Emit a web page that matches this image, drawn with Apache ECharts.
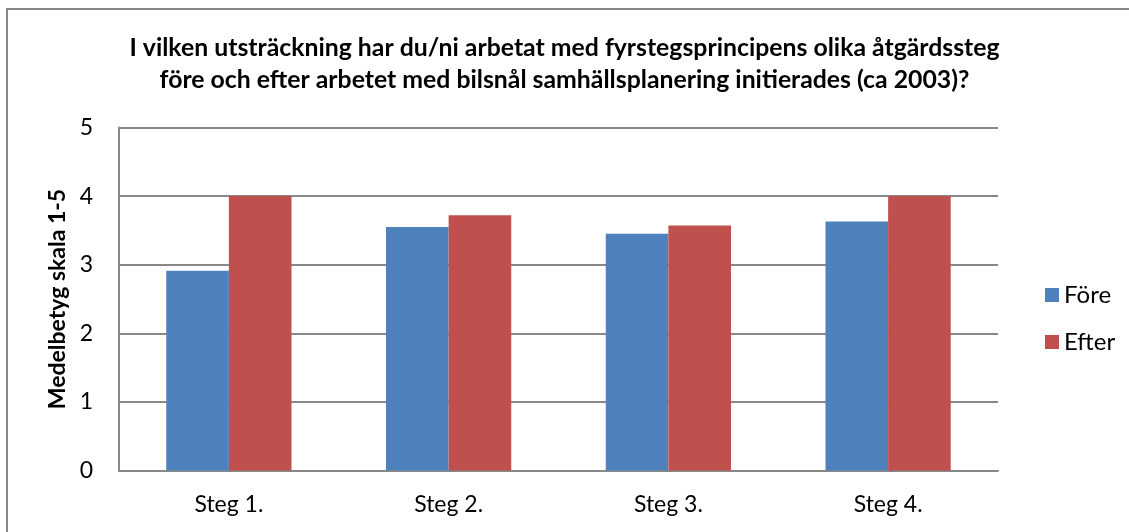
<!DOCTYPE html>
<html><head><meta charset="utf-8">
<script src="https://cdn.jsdelivr.net/npm/echarts@6/dist/echarts.min.js"></script>
<style>html,body{margin:0;padding:0;background:#fff}#c{width:1129px;height:532px}</style>
</head><body><div id="c"></div>
<script>
const categories = ['Steg 1.', 'Steg 2.', 'Steg 3.', 'Steg 4.'];
const fore = [2.91, 3.55, 3.45, 3.63];
const efter = [4.0, 3.72, 3.57, 4.0];
const yTicks = [0, 1, 2, 3, 4, 5];
const titleText = 'I vilken utsträckning har du/ni arbetat med fyrstegsprincipens olika åtgärdssteg\nföre och efter arbetet med bilsnål samhällsplanering initierades (ca 2003)?';
const font = 'Lato, "Open Sans", sans-serif';

const chart = echarts.init(document.getElementById('c'), null, {renderer: 'canvas'});
chart.setOption({
  animation: false,
  backgroundColor: '#fff',
  graphic: [{type: 'rect', shape: {x: 7, y: 9, width: 1200, height: 600}, style: {fill: 'none', stroke: '#888', lineWidth: 2}, silent: true}],
  title: {text: titleText, left: 'center', top: 27, textStyle: {fontFamily: font, fontWeight: 'bold', fontSize: 24.8, lineHeight: 32, color: '#000'}},
  legend: {orient: 'vertical', left: 1040, top: 278, itemWidth: 14, itemHeight: 14, itemGap: 23, icon: 'rect',
    textStyle: {fontFamily: font, fontSize: 24, color: '#000'}, data: ['Före', 'Efter']},
  grid: {left: 119, right: 131, top: 127.5, bottom: 61.5},
  xAxis: {type: 'category', data: categories,
    axisLine: {lineStyle: {color: '#888', width: 2}}, axisTick: {show: false},
    axisLabel: {fontFamily: font, fontSize: 23, color: '#000', margin: 23}},
  yAxis: {type: 'value', min: yTicks[0], max: yTicks[yTicks.length - 1], interval: 1,
    name: 'Medelbetyg skala 1-5', nameLocation: 'middle', nameGap: 48,
    nameTextStyle: {fontFamily: font, fontWeight: 'bold', fontSize: 23, color: '#000'},
    axisLine: {show: true, lineStyle: {color: '#888', width: 2}}, axisTick: {show: false},
    axisLabel: {fontFamily: font, fontSize: 23, color: '#000', margin: 26},
    splitLine: {lineStyle: {color: '#888', width: 2}}},
  series: [
    {name: 'Före', type: 'bar', data: fore, barGap: '0%', barCategoryGap: '43%', itemStyle: {color: '#4F81BD'}},
    {name: 'Efter', type: 'bar', data: efter, barGap: '0%', barCategoryGap: '43%', itemStyle: {color: '#C0504D'}}
  ]
});
</script></body></html>
